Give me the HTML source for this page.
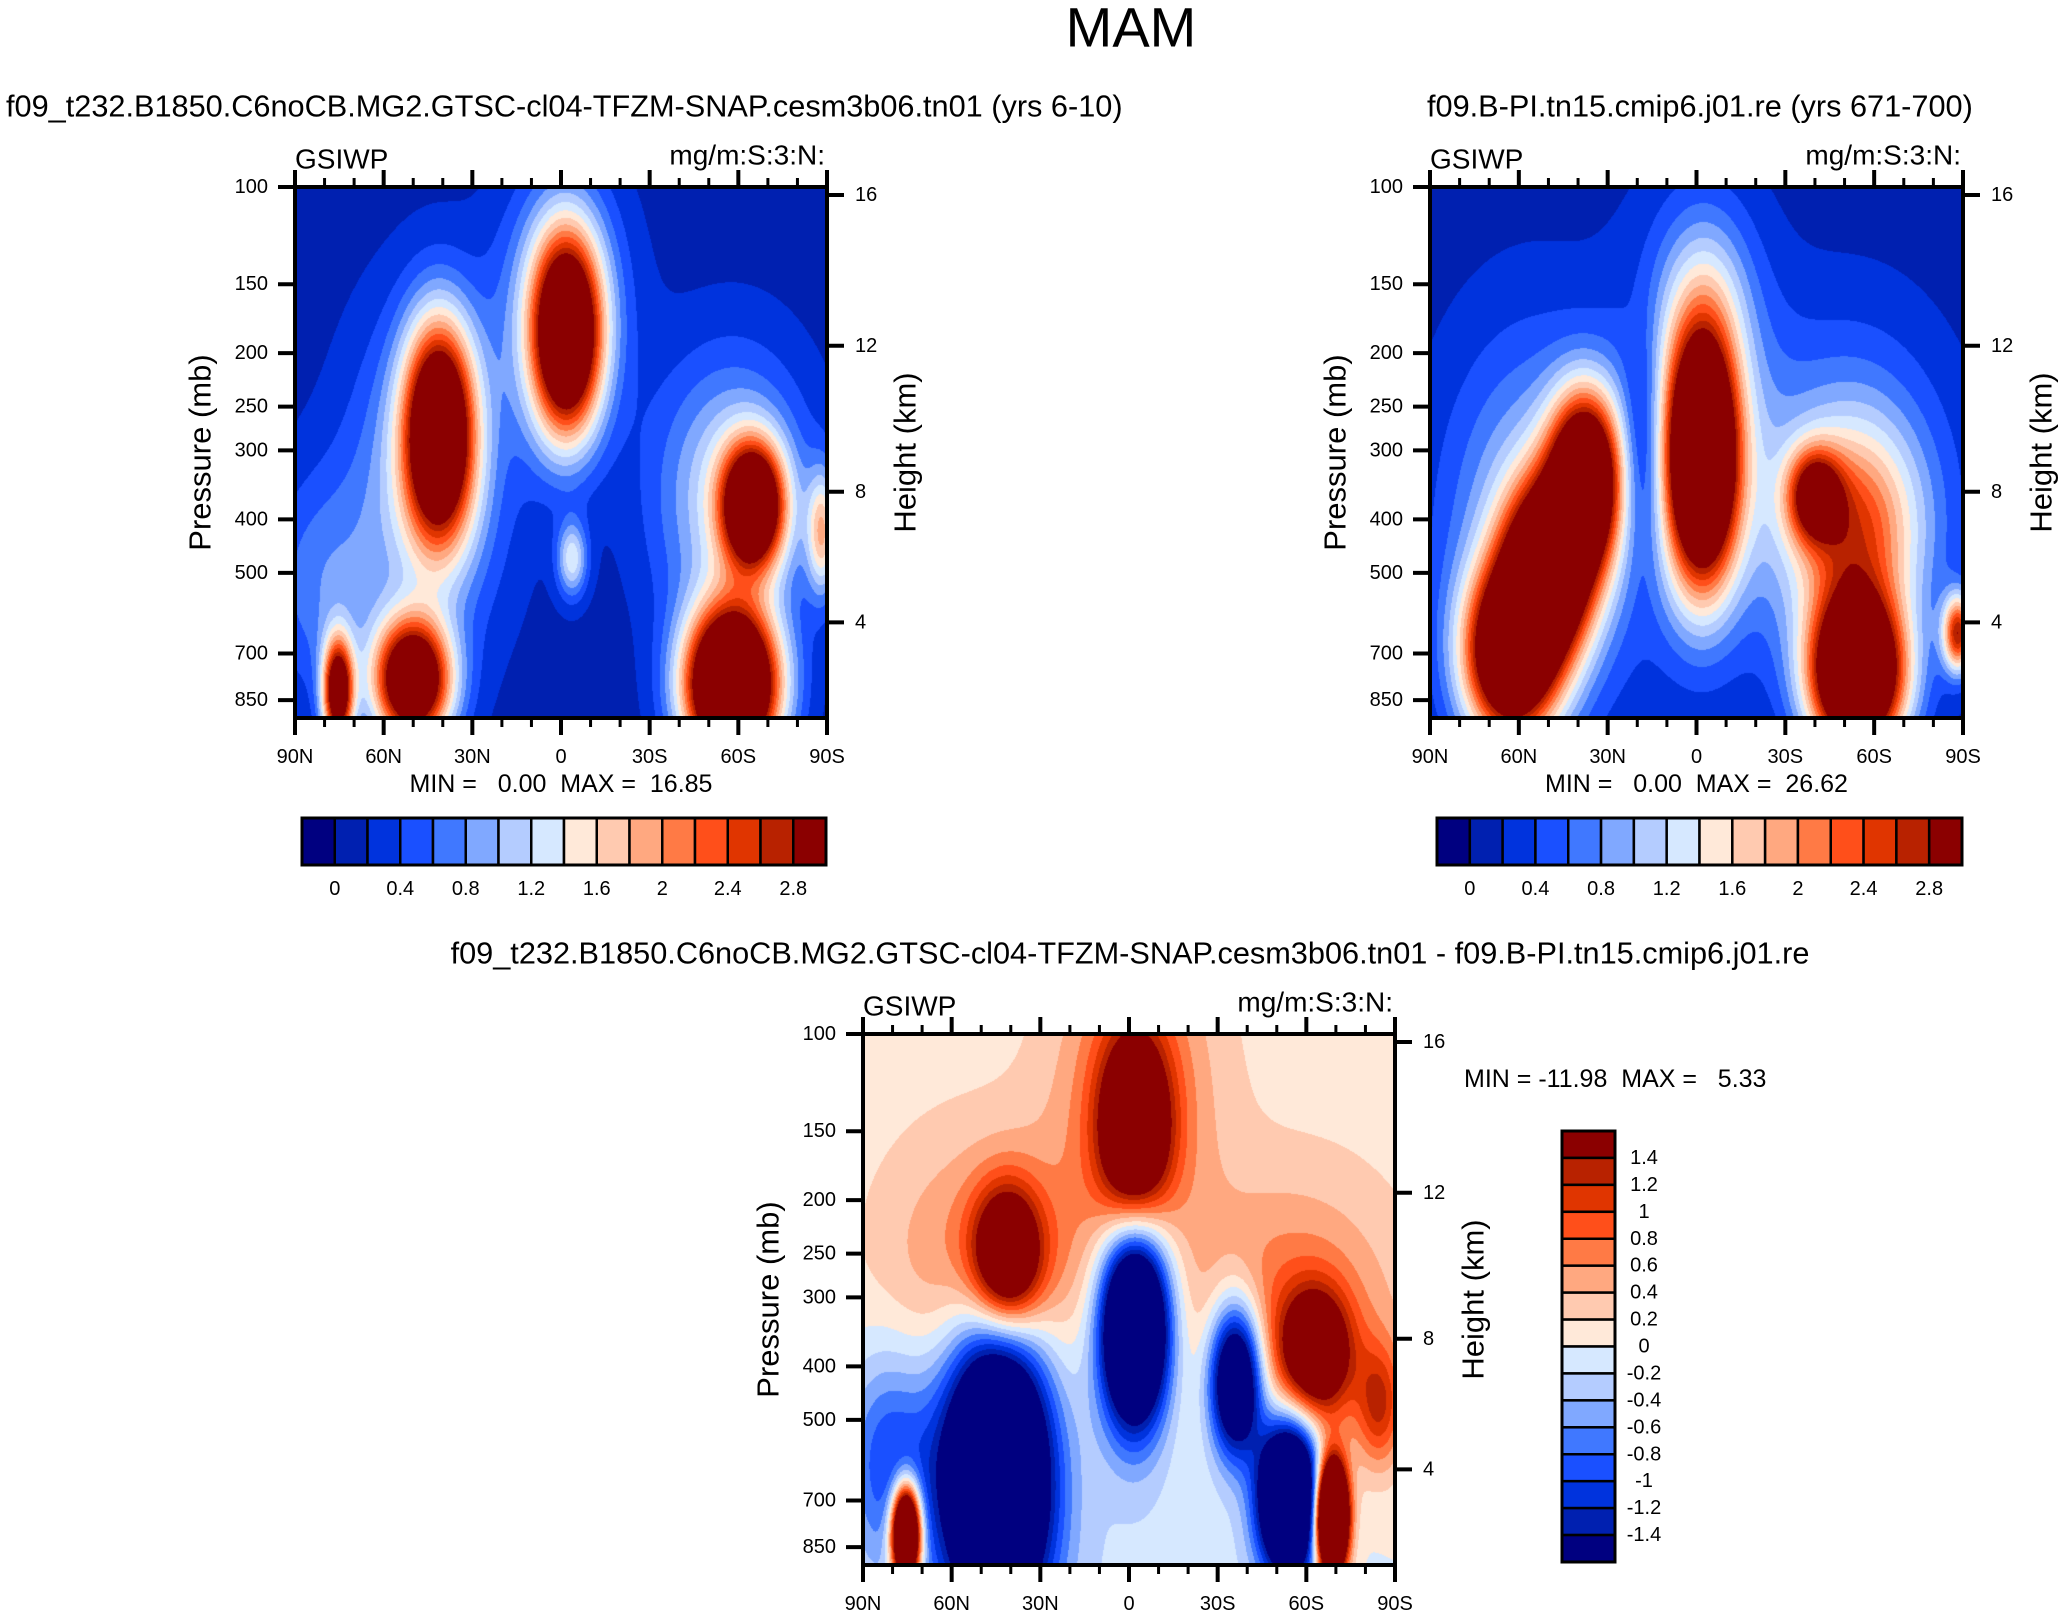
<!DOCTYPE html>
<html><head><meta charset="utf-8"><style>
html,body{margin:0;padding:0;background:#fff;}
#wrap{position:relative;width:2062px;height:1616px;overflow:hidden;font-family:"Liberation Sans",sans-serif;}
canvas{position:absolute;}
svg{position:absolute;left:0;top:0;}
text{font-family:"Liberation Sans",sans-serif;fill:#000;white-space:pre;}
</style></head><body>
<div id="wrap">
<canvas id="c1"></canvas>
<canvas id="c2"></canvas>
<canvas id="c3"></canvas>
<svg id="ov" width="2062" height="1616"></svg>
</div>
<script>
// ---- data ----
const palette = ["#000080","#0020b0","#0033dd","#1a50ff","#4078ff","#80a8ff","#b4ccff","#d6e8ff","#ffe9d9","#ffcab0","#ffa880","#ff7a45","#ff4f1a","#e03500","#b82200","#8b0000"];
const levelsAbs = [0,0.2,0.4,0.6,0.8,1,1.2,1.4,1.6,1.8,2,2.2,2.4,2.6,2.8];
const levelsDiff = [-1.4,-1.2,-1,-0.8,-0.6,-0.4,-0.2,0,0.2,0.4,0.6,0.8,1,1.2,1.4];
const absLabels = ["0","0.4","0.8","1.2","1.6","2","2.4","2.8"];
const diffLabels = ["1.4","1.2","1","0.8","0.6","0.4","0.2","0","-0.2","-0.4","-0.6","-0.8","-1","-1.2","-1.4"];
const pressureTicks = [100,150,200,250,300,400,500,700,850];
const heightTicks = [16,12,8,4];
const heightTickFrac = [0.015,0.299,0.574,0.82];
const latTicks = [90,60,30,0,-30,-60,-90];
const latLabels = ["90N","60N","30N","0","30S","60S","90S"];
// blobs: [latFrac, yFrac, sigmaX, sigmaY, amplitude]
const base1 = 0.1, base2 = 0.1, base3 = 0.1;
const blobs1 = [
 [0.51,0.28,0.045,0.13,3.8],[0.50,0.22,0.08,0.17,1.0],
 [0.27,0.46,0.045,0.14,3.9],[0.25,0.55,0.10,0.22,1.0],
 [0.22,0.93,0.05,0.08,4],[0.08,0.95,0.02,0.07,3.5],[0.05,0.75,0.08,0.15,0.6],
 [0.86,0.60,0.04,0.08,3.8],[0.82,0.58,0.10,0.18,1.2],[0.82,0.94,0.06,0.10,5.5],
 [0.52,0.70,0.02,0.05,1.2],[0.99,0.65,0.02,0.08,1.5]];
const blobs2 = [
 [0.51,0.51,0.045,0.16,4.5],[0.50,0.45,0.09,0.25,1.1],[0.52,0.20,0.06,0.12,0.5],
 [0.15,0.88,0.06,0.11,4],[0.22,0.72,0.055,0.11,4],[0.29,0.55,0.045,0.11,4],[0.20,0.65,0.12,0.25,1.1],
 [0.72,0.58,0.035,0.06,2.2],[0.80,0.65,0.08,0.13,1.4],[0.80,0.92,0.06,0.10,5],[0.99,0.84,0.02,0.05,2.5],
 [0.78,0.60,0.13,0.22,1.0],[0.40,0.50,0.03,0.15,-0.8]];
const blobs3 = [
 [0.51,0.18,0.045,0.12,2.2],[0.51,0.12,0.10,0.22,0.8],
 [0.27,0.42,0.045,0.09,2.3],[0.24,0.45,0.13,0.17,0.8],
 [0.85,0.60,0.045,0.08,2.0],[0.80,0.55,0.14,0.18,0.8],[0.97,0.70,0.03,0.08,1.0],
 [0.25,0.82,0.07,0.20,-4],[0.51,0.55,0.045,0.13,-4],[0.70,0.65,0.035,0.10,-3],[0.80,0.87,0.04,0.10,-4],
 [0.5,1.0,0.40,0.30,-0.25],[0.05,0.80,0.06,0.15,-1.0],
 [0.08,0.94,0.018,0.06,5],[0.88,0.91,0.02,0.07,6]];
// ---- layout ----
const panels = [
 {id:"c1",x:295,y:187,w:532,h:531,blobs:blobs1,base:base1,levels:levelsAbs,title:"f09_t232.B1850.C6noCB.MG2.GTSC-cl04-TFZM-SNAP.cesm3b06.tn01 (yrs 6-10)",tx:6,ty:106,minmax:"MIN =   0.00  MAX =  16.85"},
 {id:"c2",x:1430,y:187,w:533,h:531,blobs:blobs2,base:base2,levels:levelsAbs,title:"f09.B-PI.tn15.cmip6.j01.re (yrs 671-700)",tx:1427,ty:106,minmax:"MIN =   0.00  MAX =  26.62"},
 {id:"c3",x:863,y:1034,w:532,h:531,blobs:blobs3,base:base3,levels:levelsDiff,title:"f09_t232.B1850.C6noCB.MG2.GTSC-cl04-TFZM-SNAP.cesm3b06.tn01 - f09.B-PI.tn15.cmip6.j01.re",tx:1130,ty:953,minmax:null}
];
const pBot = 916;
function yP(p,P){return P.y + Math.log10(p/100)/Math.log10(pBot/100)*P.h;}
function xL(lat,P){return P.x + (90-lat)/180*P.w;}
function hexToRgb(h){return [parseInt(h.substr(1,2),16),parseInt(h.substr(3,2),16),parseInt(h.substr(5,2),16)];}
const pal = palette.map(hexToRgb);
panels.forEach(P=>{
  const cv=document.getElementById(P.id);
  cv.width=P.w;cv.height=P.h;cv.style.left=P.x+"px";cv.style.top=P.y+"px";
  const ctx=cv.getContext("2d");const img=ctx.createImageData(P.w,P.h);
  for(let j=0;j<P.h;j++){const v=j/P.h;for(let i=0;i<P.w;i++){const u=i/P.w;
    let f=P.base;
    for(const b of P.blobs){const du=(u-b[0])/b[2],dv=(v-b[1])/b[3];f+=b[4]*Math.exp(-0.5*(du*du+dv*dv));}
    let k=0;while(k<P.levels.length && f>=P.levels[k])k++;
    const c=pal[k];const o=(j*P.w+i)*4;img.data[o]=c[0];img.data[o+1]=c[1];img.data[o+2]=c[2];img.data[o+3]=255;}}
  ctx.putImageData(img,0,0);
});
// ---- overlay ----
const NS="http://www.w3.org/2000/svg";const ov=document.getElementById("ov");
function mk(tag,attrs,parent){const e=document.createElementNS(NS,tag);for(const k in attrs)e.setAttribute(k,attrs[k]);(parent||ov).appendChild(e);return e;}
function txt(s,x,y,size,anchor,parent){const t=mk("text",{x:x,y:y,"font-size":size,"text-anchor":anchor||"start","dominant-baseline":"central"},parent);t.setAttribute("xml:space","preserve");t.textContent=s;return t;}
const main=txt("MAM",1131,27,56,"middle");


panels.forEach((P,pi)=>{
  const g=mk("g",{});
  
  
  const t=txt(P.title,P.tx,P.ty,30.7,pi==2?"middle":"start",g);
  
  
  const l=txt("GSIWP",P.x,P.y-28,28,"start",g);
  
  
  const r=txt("mg/m:S:3:N:",P.x+P.w-2,P.y-32,28,"end",g);
  
  
  mk("rect",{x:P.x,y:P.y,width:P.w,height:P.h,fill:"none",stroke:"#000","stroke-width":4},g);
  for(let lat=90;lat>=-90;lat-=10){const x=xL(lat,P);const major=lat%30==0;const L=major?17:9;
    mk("line",{x1:x,y1:P.y,x2:x,y2:P.y-L,stroke:"#000","stroke-width":major?4:3},g);
    mk("line",{x1:x,y1:P.y+P.h,x2:x,y2:P.y+P.h+L,stroke:"#000","stroke-width":major?4:3},g);}
  latTicks.forEach((lat,i)=>{const e=txt(latLabels[i],xL(lat,P),P.y+P.h+39,20,"middle",g);
    
    });
  pressureTicks.forEach(p=>{const y=yP(p,P);
    mk("line",{x1:P.x,y1:y,x2:P.x-17,y2:y,stroke:"#000","stroke-width":4},g);
    const e=txt(String(p),P.x-27,y,20,"end",g);
    
    });
  heightTicks.forEach((h,i)=>{const y=P.y+heightTickFrac[i]*P.h;
    mk("line",{x1:P.x+P.w,y1:y,x2:P.x+P.w+17,y2:y,stroke:"#000","stroke-width":4},g);
    const e=txt(String(h),P.x+P.w+28,y,20,"start",g);
    
    });
  const cy=P.y+P.h/2;
  const yl=txt("Pressure (mb)",0,0,31,"middle",g);yl.setAttribute("transform","translate("+(P.x-95)+","+cy+") rotate(-90)");
  
  
  const hl=txt("Height (km)",0,0,31,"middle",g);hl.setAttribute("transform","translate("+(P.x+P.w+78)+","+cy+") rotate(-90)");
  
  
  if(P.minmax){const m=txt(P.minmax,P.x+P.w/2,P.y+P.h+66,25,"middle",g);
    
    
    const cx0=P.x+7,cw=(P.w-8)/16,cy0=818,ch=47;
    const cb=mk("g",{},g);
    
    
    palette.forEach((c,i)=>{mk("rect",{x:cx0+i*cw,y:cy0,width:cw,height:ch,fill:c,stroke:"#000","stroke-width":2.5},cb);});
    mk("rect",{x:cx0,y:cy0,width:16*cw,height:ch,fill:"none",stroke:"#000","stroke-width":3},cb);
    absLabels.forEach((s,i)=>{const e=txt(s,cx0+(1+2*i)*cw,889,20,"middle",cb);
      
      });
  } else {
    const m=txt("MIN = -11.98  MAX =   5.33",1464,1079,25,"start",g);
    
    
    const cx0=1562,cw=53,cy0=1131,ch=(1562-1131)/16;
    const cb=mk("g",{},g);
    
    
    palette.slice().reverse().forEach((c,i)=>{mk("rect",{x:cx0,y:cy0+i*ch,width:cw,height:ch,fill:c,stroke:"#000","stroke-width":2.5},cb);});
    mk("rect",{x:cx0,y:cy0,width:cw,height:16*ch,fill:"none",stroke:"#000","stroke-width":3},cb);
    diffLabels.forEach((s,i)=>{const e=txt(s,1644,cy0+(i+1)*ch,20,"middle",cb);
      
      });
  }
});
</script>
</body></html>
